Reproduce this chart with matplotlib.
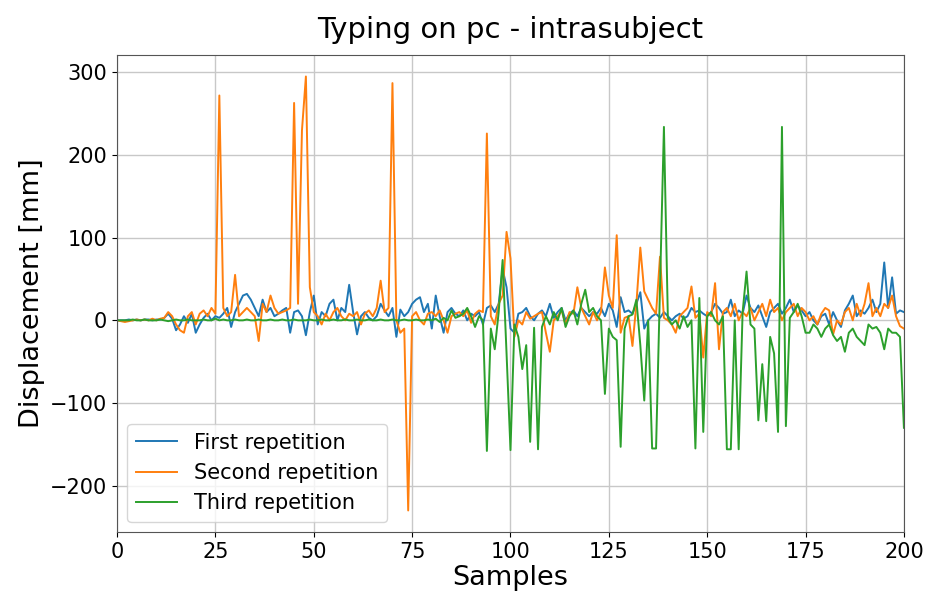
import matplotlib
matplotlib.use("Agg")
import matplotlib.pyplot as plt
import numpy as np

title = "Typing on pc - intrasubject"
x_label = "Samples"
y_label = "Displacement [mm]"
series_names = ["First repetition", "Second repetition", "Third repetition"]

first_rep = [
    0, 0, 0, 1, 0, 1, 0, 1, 1, 0,
    1, 1, 3, 8, 2, -12, -5, 5, -3, 8,
    -15, -5, 3, 8, 0, 5, 3, 8, 15, -8,
    10, 20, 30, 32, 25, 15, 5, 25, 10, 15,
    5, 8, 12, 15, -15, 10, 12, 5, -18, 10,
    30, -5, 10, 5, 20, 25, 0, 15, 10, 43,
    10, -17, 5, 10, 3, 0, 5, 20, 12, 5,
    15, -20, 13, 5, 10, 20, 25, 28, 10, 20,
    -10, 30, 5, -15, 10, 15, 8, 5, 12, 0,
    8, 5, 10, -5, 15, 18, 10, 20, 62, 40,
    -10, -15, 8, 10, 15, 5, 0, 8, 12, 5,
    20, 3, 10, 15, 0, 8, 12, 5, 15, 10,
    5, 10, 8, 15, 5, 20, 12, -8, 28, 10,
    12, 8, 20, 34, -10, 0, 5, 8, 3, 10,
    5, 0, 5, 8, 2, 5, 15, 10, 12, 8,
    5, 10, 20, 15, 8, 10, 25, 5, 12, 8,
    30, 15, 10, 18, 5, -8, 10, 15, 20, 8,
    15, 25, 10, 18, 12, 5, 10, 0, -5, 5,
    8, -5, 10, 0, -8, 12, 20, 30, 5, 12,
    8, 15, 25, 10, 20, 70, 15, 52, 8, 12,
    10,
]

second_rep = [
    0, -1, -2, -1, 0, 1, 0, 1, 0, 2,
    0, 2, 3, 10, 5, -5, -12, -15, 5, 10,
    -5, 8, 12, 5, 15, 8, 272, 15, 5, 10,
    55, 5, 10, 15, 10, 5, -25, 20, 10, 30,
    15, 8, 10, 12, 15, 263, 20, 230, 295, 40,
    10, 5, -5, 8, 0, 10, 15, 5, 0, 8,
    5, 10, -5, 8, 12, 5, 15, 48, 10, 15,
    287, 0, -15, -10, -230, 5, 10, 0, -5, 8,
    10, 5, 12, 0, -15, 5, 8, 10, 5, 12,
    -3, 8, 12, 10, 226, 5, -5, 20, 30, 107,
    75, -20, 0, -5, 10, 2, 5, 8, 10, -15,
    -38, 0, 5, 12, -5, 10, 8, 40, 15, 5,
    -5, 10, 0, 10, 64, 30, 15, 103, -15, 3,
    5, -31, 20, 88, 35, 25, 15, 8, 77, 3,
    0, -5, -15, 5, 10, 15, 41, 3, 8, -45,
    10, 5, 45, -35, 10, 15, 5, 20, 0, 10,
    5, 15, 0, 10, 20, 5, 25, 10, 15, 0,
    10, 15, 20, 5, 15, 10, 0, 5, -5, 8,
    15, 12, -17, 0, -5, 10, 15, 0, 20, 5,
    20, 45, 5, 15, 5, 20, 15, 30, 5, -7,
    -10,
]

third_rep = [
    0, 0, 0, 0, 1, 0, 0, 1, 0, 0,
    0, 1, 0, -1, 0, 1, 0, 0, 1, 0,
    0, 0, 1, 0, 0, 2, 0, 1, 0, 0,
    1, 0, 0, 1, 0, 0, 1, 0, 0, 1,
    0, 0, 1, 0, 0, 1, 0, 0, 0, 1,
    0, 0, 1, 0, 0, 1, 0, 0, 1, 0,
    0, 1, 0, 0, 1, 0, 0, 1, 0, 0,
    1, 0, 0, 1, 0, 0, 1, 0, 0, 1,
    0, 2, -2, 3, 0, 12, 3, 5, 8, 15,
    5, -8, 5, 0, -158, -10, -35, 10, 73, -40,
    -157, -5, -20, -59, -30, -147, -9, -156, -8, 5,
    -5, 10, 0, 15, -8, 5, 12, -5, 20, 37,
    10, 15, 5, 0, -89, -10, -20, -24, -153, -10,
    5, 7, 25, -30, -97, 0, -155, -155, 40, 234,
    3, -5, 0, -10, 5, -8, 0, -155, 27, -135,
    5, 10, 0, -5, 5, -156, -156, 0, -156, 10,
    59, -5, -10, -121, -53, -122, -20, -40, -135, 234,
    -128, 3, 10, 20, 5, -15, -15, -5, -10, -20,
    -10, -5, -18, -25, -20, -38, -15, -10, -20, -25,
    -30, -5, -10, -8, -15, -35, -10, -15, -15, -20,
    -130,
]

assert len(first_rep) == len(second_rep) == len(third_rep) == 201
samples = np.arange(len(first_rep))

fig = plt.figure(figsize=(9.29, 6.02), dpi=100)
ax = fig.add_axes([0.126, 0.116, 0.847, 0.793])
colors = ["#1f77b4", "#ff7f0e", "#2ca02c"]
for vals, name, c in zip([first_rep, second_rep, third_rep], series_names, colors):
    ax.plot(samples, vals, color=c, lw=1.4, label=name)

ax.set_xlim(0, 200)
ax.set_xticks(np.arange(0, 201, 25))
ax.set_yticks([-200, -100, 0, 100, 200, 300])
ax.grid(True, color="#c8c8c8", lw=1.0)
ax.tick_params(labelsize=15)
ax.set_xlabel(x_label, fontsize=19.5, labelpad=2)
ax.set_ylabel(y_label, fontsize=19.5)
ax.set_title(title, fontsize=21, pad=12)
ax.legend(loc="lower left", fontsize=15, frameon=True)
for s in ax.spines.values():
    s.set_color("#555555")

fig.savefig("out.png", dpi=100)
